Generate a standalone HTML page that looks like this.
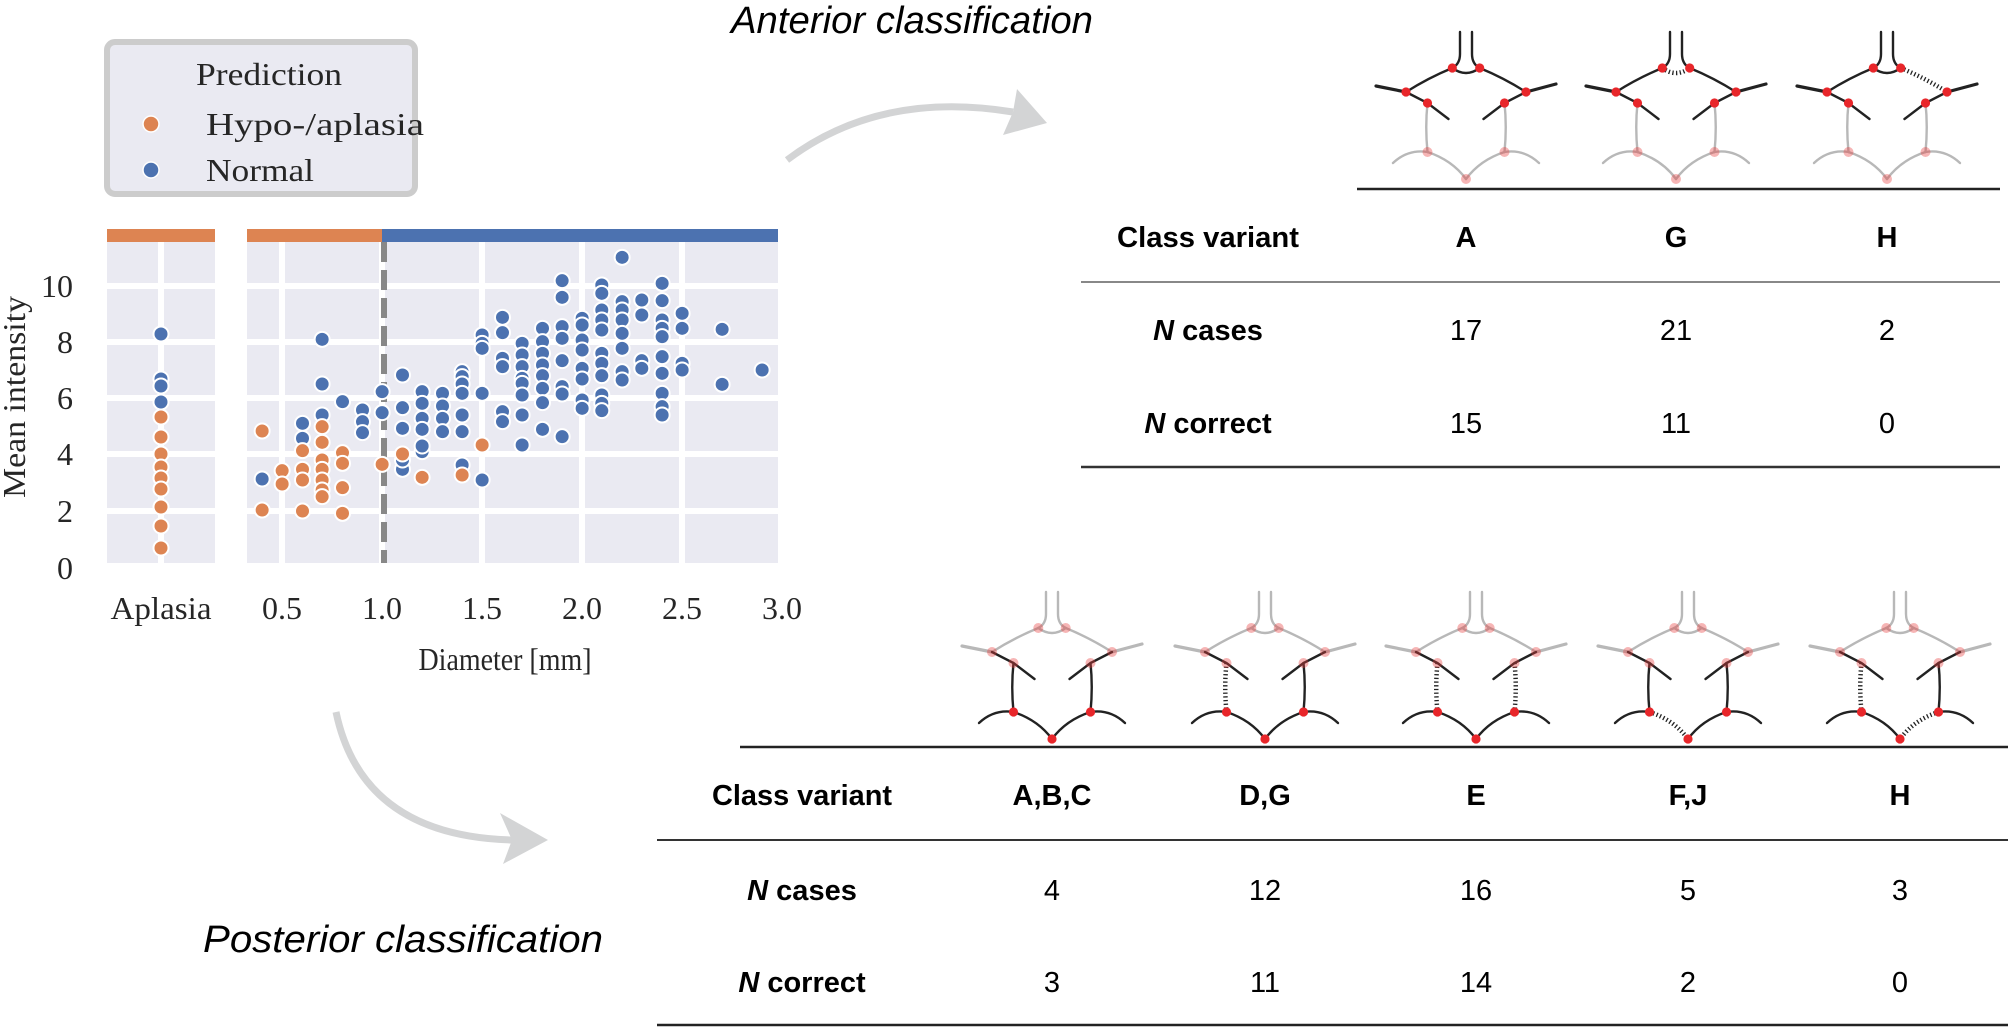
<!DOCTYPE html>
<html><head><meta charset="utf-8"><style>
html,body{margin:0;padding:0;background:#fff;}
svg{display:block;}
.serif{font-family:"Liberation Serif",serif;fill:#262626;}
.sans{font-family:"Liberation Sans",sans-serif;fill:#000;}
</style></head><body>
<svg id="s" width="2008" height="1027" viewBox="0 0 2008 1027" xmlns="http://www.w3.org/2000/svg">
<rect width="2008" height="1027" fill="#fff"/>
<!-- legend -->
<rect x="107" y="42" width="308" height="152" rx="8" fill="#eaeaf2" stroke="#cccccc" stroke-width="6"/>
<text class="serif" x="196" y="85" font-size="32" textLength="146" lengthAdjust="spacingAndGlyphs">Prediction</text>
<circle cx="151" cy="124" r="8" fill="#dd8452" stroke="#fff" stroke-width="1.5"/>
<text class="serif" x="206" y="135" font-size="32" textLength="218" lengthAdjust="spacingAndGlyphs">Hypo-/aplasia</text>
<circle cx="151" cy="170" r="8" fill="#4c72b0" stroke="#fff" stroke-width="1.5"/>
<text class="serif" x="206" y="181" font-size="32" textLength="108" lengthAdjust="spacingAndGlyphs">Normal</text>
<!-- panels -->
<rect x="107" y="242" width="108" height="321" fill="#eaeaf2"/>
<rect x="247" y="242" width="531" height="321" fill="#eaeaf2"/>
<g stroke="#fff" stroke-width="6">
<line x1="161" y1="242" x2="161" y2="563"/>
<line x1="282" y1="242" x2="282" y2="563"/>
<line x1="382" y1="242" x2="382" y2="563"/>
<line x1="482" y1="242" x2="482" y2="563"/>
<line x1="582" y1="242" x2="582" y2="563"/>
<line x1="682" y1="242" x2="682" y2="563"/>
<line x1="107" y1="286" x2="215" y2="286"/><line x1="247" y1="286" x2="778" y2="286"/>
<line x1="107" y1="342" x2="215" y2="342"/><line x1="247" y1="342" x2="778" y2="342"/>
<line x1="107" y1="398" x2="215" y2="398"/><line x1="247" y1="398" x2="778" y2="398"/>
<line x1="107" y1="454" x2="215" y2="454"/><line x1="247" y1="454" x2="778" y2="454"/>
<line x1="107" y1="511" x2="215" y2="511"/><line x1="247" y1="511" x2="778" y2="511"/>
</g>
<rect x="107" y="229" width="108" height="13" fill="#dd8452"/>
<rect x="247" y="229" width="135" height="13" fill="#dd8452"/>
<rect x="382" y="229" width="396" height="13" fill="#4c72b0"/>
<line x1="384" y1="242" x2="384" y2="563" stroke="#888" stroke-width="6" stroke-dasharray="20 8"/>
<g id="pts"></g>
<!-- axis labels -->
<g class="serif" font-size="32" text-anchor="end">
<text x="73" y="297">10</text><text x="73" y="353">8</text><text x="73" y="409">6</text>
<text x="73" y="465">4</text><text x="73" y="522">2</text><text x="73" y="579">0</text>
</g>
<g class="serif" font-size="32" text-anchor="middle">
<text x="161" y="619" textLength="101" lengthAdjust="spacingAndGlyphs">Aplasia</text><text x="282" y="619">0.5</text><text x="382" y="619">1.0</text>
<text x="482" y="619">1.5</text><text x="582" y="619">2.0</text><text x="682" y="619">2.5</text><text x="782" y="619">3.0</text>
<text x="505" y="670" textLength="173" lengthAdjust="spacingAndGlyphs">Diameter [mm]</text>
<text transform="translate(25,397) rotate(-90)" textLength="202" lengthAdjust="spacingAndGlyphs">Mean intensity</text>
</g>
<!-- arrows -->
<path d="M787 160 Q880 90 1013 112" fill="none" stroke="#d3d4d5" stroke-width="7"/>
<polygon points="1047,123 1017,89 1013,112 1003,135" fill="#d3d4d5"/>
<path d="M336 712 Q362 836 512 840" fill="none" stroke="#d3d4d5" stroke-width="7"/>
<polygon points="548,840 500,813 512,840 503,864" fill="#d3d4d5"/>
<!-- titles -->
<text class="sans" x="731" y="33" font-size="38" font-style="italic" textLength="362" lengthAdjust="spacingAndGlyphs">Anterior classification</text>
<text class="sans" x="203" y="952" font-size="38" font-style="italic" textLength="400" lengthAdjust="spacingAndGlyphs">Posterior classification</text>
<!-- anterior table -->
<line x1="1357" y1="189" x2="2000" y2="189" stroke="#222" stroke-width="2.5"/>
<line x1="1081" y1="282" x2="2000" y2="282" stroke="#888" stroke-width="2"/>
<line x1="1081" y1="467" x2="2000" y2="467" stroke="#333" stroke-width="2.5"/>
<g class="sans" font-size="29" text-anchor="middle">
<text x="1208" y="247" font-weight="bold" textLength="182" lengthAdjust="spacingAndGlyphs">Class variant</text>
<text x="1466" y="247" font-weight="bold">A</text><text x="1676" y="247" font-weight="bold">G</text><text x="1887" y="247" font-weight="bold">H</text>
<text x="1208" y="340" font-weight="bold"><tspan font-style="italic">N</tspan> cases</text>
<text x="1466" y="340">17</text><text x="1676" y="340">21</text><text x="1887" y="340">2</text>
<text x="1208" y="433" font-weight="bold"><tspan font-style="italic">N</tspan> correct</text>
<text x="1466" y="433">15</text><text x="1676" y="433">11</text><text x="1887" y="433">0</text>
</g>
<!-- posterior table -->
<line x1="740" y1="747" x2="2008" y2="747" stroke="#222" stroke-width="2.5"/>
<line x1="657" y1="840" x2="2008" y2="840" stroke="#333" stroke-width="2"/>
<line x1="657" y1="1025" x2="2008" y2="1025" stroke="#222" stroke-width="2.5"/>
<g class="sans" font-size="29" text-anchor="middle">
<text x="802" y="805" font-weight="bold" textLength="180" lengthAdjust="spacingAndGlyphs">Class variant</text>
<text x="1052" y="805" font-weight="bold">A,B,C</text><text x="1265" y="805" font-weight="bold">D,G</text>
<text x="1476" y="805" font-weight="bold">E</text><text x="1688" y="805" font-weight="bold">F,J</text><text x="1900" y="805" font-weight="bold">H</text>
<text x="802" y="900" font-weight="bold"><tspan font-style="italic">N</tspan> cases</text>
<text x="1052" y="900">4</text><text x="1265" y="900">12</text><text x="1476" y="900">16</text><text x="1688" y="900">5</text><text x="1900" y="900">3</text>
<text x="802" y="992" font-weight="bold"><tspan font-style="italic">N</tspan> correct</text>
<text x="1052" y="992">3</text><text x="1265" y="992">11</text><text x="1476" y="992">14</text><text x="1688" y="992">2</text><text x="1900" y="992">0</text>
</g>
<g id="icons"></g>
</svg>
<script>
var NS="http://www.w3.org/2000/svg";
function el(p,t,a){var e=document.createElementNS(NS,t);for(var k in a)e.setAttribute(k,a[k]);p.appendChild(e);return e;}
var pts=document.getElementById('pts');
function dot(x,y,c){el(pts,'circle',{cx:x,cy:y,r:7.5,fill:c,stroke:'#fff','stroke-width':2});}
var B='#4c72b0',O='#dd8452';
var blue=[[62,747],[175,580],[175,625],[230,328],[230,462],[230,555],[287,515],[343,540],[343,575],[343,608],[398,485],[398,548],[455,435],[455,533],[455,595],[455,718],[455,690],[510,485],[510,520],[510,565],[510,598],[510,665],[510,648],[567,490],[567,528],[567,565],[567,605],[622,425],[622,440],[622,462],[622,490],[622,555],[622,605],[622,705],[678,315],[678,340],[678,355],[678,490],[678,750],[735,262],[735,308],[735,385],[735,410],[735,545],[735,575],[790,340],[790,375],[790,410],[790,445],[790,460],[790,495],[790,555],[790,645],[847,295],[847,335],[847,370],[847,405],[847,437],[847,475],[847,518],[847,598],[902,152],[902,202],[902,290],[902,325],[902,392],[902,470],[902,492],[902,620],[958,265],[958,285],[958,330],[958,360],[958,415],[958,447],[958,510],[958,535],[1013,165],[1013,190],[1013,240],[1013,270],[1013,300],[1013,370],[1013,400],[1013,437],[1013,495],[1013,520],[1013,542],[1070,82],[1070,215],[1070,240],[1070,270],[1070,310],[1070,355],[1070,425],[1070,450],[1125,210],[1125,255],[1125,392],[1125,415],[1182,160],[1182,212],[1182,270],[1182,295],[1182,320],[1182,380],[1182,430],[1182,490],[1182,530],[1182,555],[1238,250],[1238,295],[1238,400],[1238,420],[1350,298],[1350,463],[1462,420]];
var orange=[[62,603],[118,722],[118,762],[175,662],[175,718],[175,750],[230,590],[230,637],[230,690],[230,718],[230,750],[230,780],[230,800],[287,668],[287,700],[287,773],[62,840],[175,843],[287,850],[398,703],[455,672],[510,742],[622,735],[678,645]];
function tx(p){return [240+p[0]/2.8, 230+p[1]/3];}
blue.forEach(function(p){var q=tx(p);dot(q[0],q[1],B);});
orange.forEach(function(p){var q=tx(p);dot(q[0],q[1],O);});
[334,379,386,402].forEach(function(y){dot(161,y,B);});
[417,437,454,467,478,489,507,526,548].forEach(function(y){dot(161,y,O);});

var ic=document.getElementById('icons');
var G={
 stemL:"M-6 0 L-6 22 Q-6 32 -13.7 36", stemR:"M6 0 L6 22 Q6 32 13.7 36",
 topArc:"M-13.7 36 Q0 46 13.7 36",
 topOuterL:"M-13.7 36 Q-38 46 -60 60", topOuterR:"M13.7 36 Q38 46 60 60",
 outerLineL:"M-60 60 L-90 54", outerLineR:"M60 60 L90 52",
 midL:"M-60 60 L-38.5 71 L-17.5 87", midR:"M60 60 L38.5 71 L17.5 87",
 vertL:"M-38.5 71 Q-41 95 -38.5 120", vertR:"M38.5 71 Q41 95 38.5 120",
 arcOutL:"M-73 131 Q-58 117 -38.5 120", arcInL:"M-38.5 120 Q-14 128 0 147",
 arcOutR:"M73 131 Q58 117 38.5 120", arcInR:"M38.5 120 Q14 128 0 147"};
var grp={T:['stemL','stemR','topArc','topOuterL','topOuterR','outerLineL','outerLineR'],M:['midL','midR'],V:['vertL','vertR'],Bt:['arcOutL','arcInL','arcOutR','arcInR']};
var BLK='#222',GRY='#b8b8b8',RED='#e8262a',PALE='rgba(232,60,60,0.38)';
function icon(cx,y0,ant,dotted){
 var g=el(ic,'g',{transform:'translate('+cx+','+y0+')',fill:'none','stroke-linecap':'round'});
 var col={T:ant?BLK:GRY,M:BLK,V:ant?GRY:BLK,Bt:ant?GRY:BLK};
 for(var k in grp){grp[k].forEach(function(s){
   var w=(s.indexOf('outerLine')==0)?3.2:2.4;
   if(dotted.indexOf(s)>=0){el(g,'path',{d:G[s],stroke:BLK,'stroke-width':4.5,'stroke-dasharray':'1.3 2.4','stroke-linecap':'butt'});}
   else el(g,'path',{d:G[s],stroke:col[k],'stroke-width':w});
 });}
 var up=ant?RED:PALE, lo=ant?PALE:RED;
 [[-13.7,36],[13.7,36],[-60,60],[60,60],[-38.5,71],[38.5,71]].forEach(function(p){el(g,'circle',{cx:p[0],cy:p[1],r:ant?4.6:5,fill:up,stroke:'none'});});
 [[-38.5,120],[38.5,120],[0,147]].forEach(function(p){el(g,'circle',{cx:p[0],cy:p[1],r:ant?5:4.6,fill:lo,stroke:'none'});});
}
icon(1466,32,true,[]);icon(1676,32,true,['topArc']);icon(1887,32,true,['topOuterR']);
icon(1052,592,false,[]);icon(1265,592,false,['vertL']);icon(1476,592,false,['vertL','vertR']);
icon(1688,592,false,['arcInL']);icon(1900,592,false,['vertL','arcInR']);
</script>
</body></html>
